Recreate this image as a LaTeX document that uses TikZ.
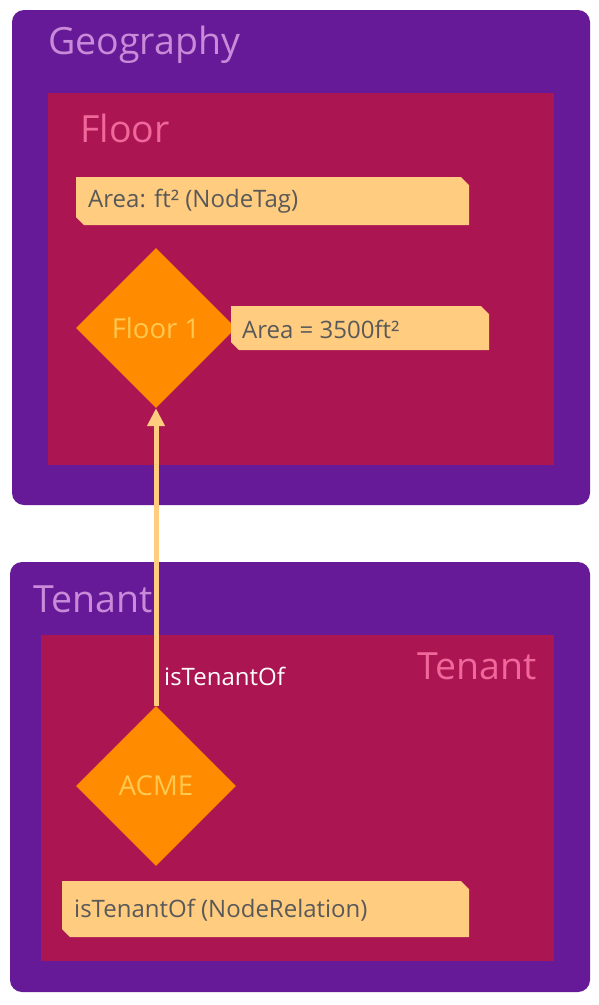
\documentclass[tikz,border=0pt]{standalone}
\usepackage{fontspec}
\setmainfont{Open Sans}
\usetikzlibrary{shapes.geometric,arrows.meta}
\definecolor{outerP}{HTML}{671A97}
\definecolor{innerR}{HTML}{AB1552}
\definecolor{dia}{HTML}{FF8C00}
\definecolor{tagC}{HTML}{FFCC80}
\definecolor{tagT}{HTML}{595959}
\definecolor{outT}{HTML}{C98BD9}
\definecolor{inT}{HTML}{F0679A}
\definecolor{diaT}{HTML}{FFC850}
\tikzset{
  x=1pt,y=-1pt,
  outerbox/.style={fill=outerP,draw=none,rounded corners=12pt},
  innerbox/.style={fill=innerR,draw=none},
  bigtitle/.style={font=\fontsize{37.5}{44}\selectfont,text=outT,inner sep=0pt},
  intitle/.style={font=\fontsize{37.5}{44}\selectfont,text=inT,inner sep=0pt},
  dnode/.style={diamond,aspect=1,minimum size=160pt,inner sep=0pt,fill=dia,text=diaT,font=\fontsize{27.5}{32}\selectfont},
  tagtext/.style={font=\fontsize{24}{28}\selectfont,text=tagT,inner sep=0pt,anchor=west},
  reltext/.style={font=\fontsize{24}{28}\selectfont,text=white,inner sep=0pt,anchor=west},
  tagfill/.style={fill=tagC,draw=none},
  rel/.style={draw=tagC,line width=5pt,-{Triangle[length=18pt,width=17pt]}}
}
\newcommand{\tagshape}[4]{% x1,y1,x2,y2
  \fill[tagfill] (#1,#2) -- ({#3-8},#2) -- (#3,{#2+8}) -- (#3,#4) -- ({#1+8},#4) -- (#1,{#4-8}) -- cycle;}
\begin{document}
\begin{tikzpicture}
\useasboundingbox (0,0) rectangle (599,1005);
% Geography
\fill[outerbox] (12,10) rectangle (590,505);
\fill[innerbox] (48,93) rectangle (554,465);
\node[bigtitle,anchor=west] (geo) at (48,45) {Geography};
\node[intitle,anchor=west] (floorlbl) at (80,128) {Floor};
\tagshape{76}{177}{469}{225}
\node[tagtext] (tag1) at (88,201) {Area: ft² (NodeTag)};
\node[dnode] (floor1) at (156,328) {Floor 1};
\tagshape{231}{306}{489}{350}
\node[tagtext] (tag2) at (242,329) {Area = 3500ft²};
% Tenant
\fill[outerbox] (10,562) rectangle (590,992);
\fill[innerbox] (41,635) rectangle (554,961);
\node[bigtitle,anchor=west] (tenO) at (33,599) {Tenant};
\node[intitle,anchor=east] (tenI) at (537,666) {Tenant};
\node[dnode] (acme) at (156,786) {ACME};
\tagshape{62}{881}{469}{937}
\node[tagtext] (tag3) at (74,910) {isTenantOf (NodeRelation)};
\node[reltext] (rlbl) at (164,676) {isTenantOf};
\draw[rel] (acme.north) -- (floor1.south);
\end{tikzpicture}
\end{document}
